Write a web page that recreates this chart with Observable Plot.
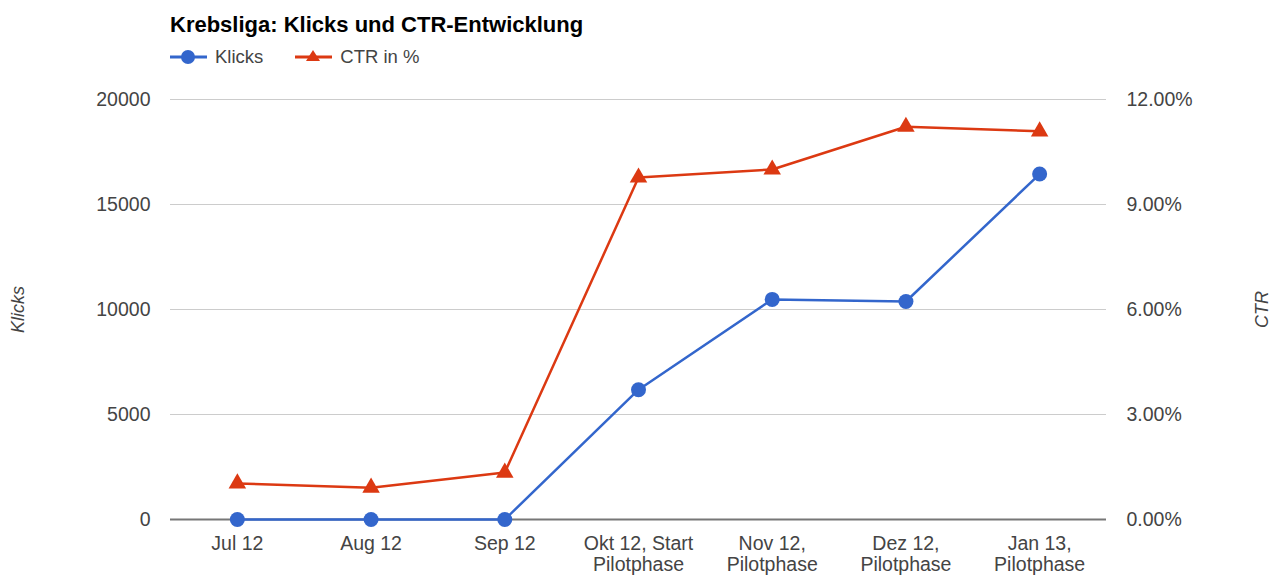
<!DOCTYPE html>
<html>
<head>
<meta charset="utf-8">
<script src="https://cdn.jsdelivr.net/npm/d3@7"></script>
<script src="https://cdn.jsdelivr.net/npm/@observablehq/plot@0.6"></script>
<style>
  html, body { margin: 0; padding: 0; background: #fff; }
  body { width: 1272px; height: 576px; overflow: hidden; font-family: Arial, "Liberation Sans", sans-serif; }
  #header { position: relative; height: 75px; }
  #title { position: absolute; left: 170px; top: 12px; font-size: 22px; font-weight: bold; color: #000; white-space: nowrap; }
  #legend { position: absolute; left: 170px; top: 46px; display: flex; align-items: center; font-size: 18.5px; color: #444; }
  .item { display: flex; align-items: center; margin-right: 32px; }
  .item svg { margin-right: 8px; }
  #chart svg text { font-family: Arial, "Liberation Sans", sans-serif; }
  #chart [aria-label="y-axis label"] text { font-style: italic; font-size: 18px; }
</style>
</head>
<body>
<div id="header">
  <div id="title">Krebsliga: Klicks und CTR-Entwicklung</div>
  <div id="legend"></div>
</div>
<div id="chart"></div>
<script>
const categories = ["Jul 12", "Aug 12", "Sep 12", "Okt 12, Start Pilotphase", "Nov 12, Pilotphase", "Dez 12, Pilotphase", "Jan 13, Pilotphase"];
const tickLabels = ["Jul 12", "Aug 12", "Sep 12", "Okt 12, Start\nPilotphase", "Nov 12,\nPilotphase", "Dez 12,\nPilotphase", "Jan 13,\nPilotphase"];
const klicks = [0, 0, 0, 6180, 10480, 10380, 16450];
const ctr = [1.03, 0.91, 1.34, 9.77, 10.00, 11.22, 11.09];
const klicksTicks = [0, 5000, 10000, 15000, 20000];
const ctrTicks = [0, 3, 6, 9, 12];
const seriesNames = ["Klicks", "CTR in %"];
const colors = ["#3366cc", "#dc3912"];

const klicksMax = 20000, ctrMax = 12;
const toLeft = v => v * klicksMax / ctrMax;

const klicksData = categories.map((c, i) => ({cat: c, v: klicks[i]}));
const ctrData = categories.map((c, i) => ({cat: c, v: toLeft(ctr[i])}));
const labelOf = new Map(categories.map((c, i) => [c, tickLabels[i]]));

// legend
const legend = document.getElementById("legend");
seriesNames.forEach((name, i) => {
  const item = document.createElement("div");
  item.className = "item";
  const sym = i === 0
    ? `<circle cx="18" cy="10" r="7" fill="${colors[i]}"/>`
    : `<path d="M18,3 L25,14 L11,14 Z" fill="${colors[i]}"/>`;
  item.innerHTML = `<svg width="37" height="20"><line x1="0" y1="10" x2="37" y2="10" stroke="${colors[i]}" stroke-width="3"/>${sym}</svg><span>${name}</span>`;
  legend.appendChild(item);
});

const chart = Plot.plot({
  width: 1272,
  height: 501,
  marginTop: 24,
  marginBottom: 57,
  marginLeft: 170,
  marginRight: 166,
  style: {fontSize: "19.5px", color: "#444", fontFamily: "Arial, 'Liberation Sans', sans-serif"},
  x: {type: "point", domain: categories, padding: 0.5, round: false},
  y: {domain: [0, klicksMax]},
  marks: [
    Plot.gridY(klicksTicks, {stroke: "#cccccc", strokeOpacity: 1, strokeWidth: 1}),
    Plot.ruleY([0], {stroke: "#777", strokeWidth: 2}),
    Plot.axisY({anchor: "left", ticks: klicksTicks, tickSize: 0, tickPadding: 20, label: "Klicks", labelAnchor: "center", labelArrow: "none", labelOffset: 159, fill: "#444", tickFormat: d => String(d)}),
    Plot.axisY({anchor: "right", ticks: ctrTicks.map(toLeft), tickSize: 0, tickPadding: 20, label: "CTR", labelAnchor: "center", labelArrow: "none", labelOffset: 161, fill: "#444", tickFormat: d => (d * ctrMax / klicksMax).toFixed(2) + "%"}),
    Plot.axisX({tickSize: 0, tickPadding: 15, lineHeight: 1.1, fill: "#444", label: null, tickFormat: d => labelOf.get(d)}),
    Plot.line(ctrData, {x: "cat", y: "v", stroke: colors[1], strokeWidth: 2.5}),
    Plot.dot(ctrData, {x: "cat", y: "v", fill: colors[1], symbol: "triangle", r: 6.5}),
    Plot.line(klicksData, {x: "cat", y: "v", stroke: colors[0], strokeWidth: 2.5}),
    Plot.dot(klicksData, {x: "cat", y: "v", fill: colors[0], r: 7.5})
  ]
});
document.getElementById("chart").appendChild(chart);
</script>
</body>
</html>
